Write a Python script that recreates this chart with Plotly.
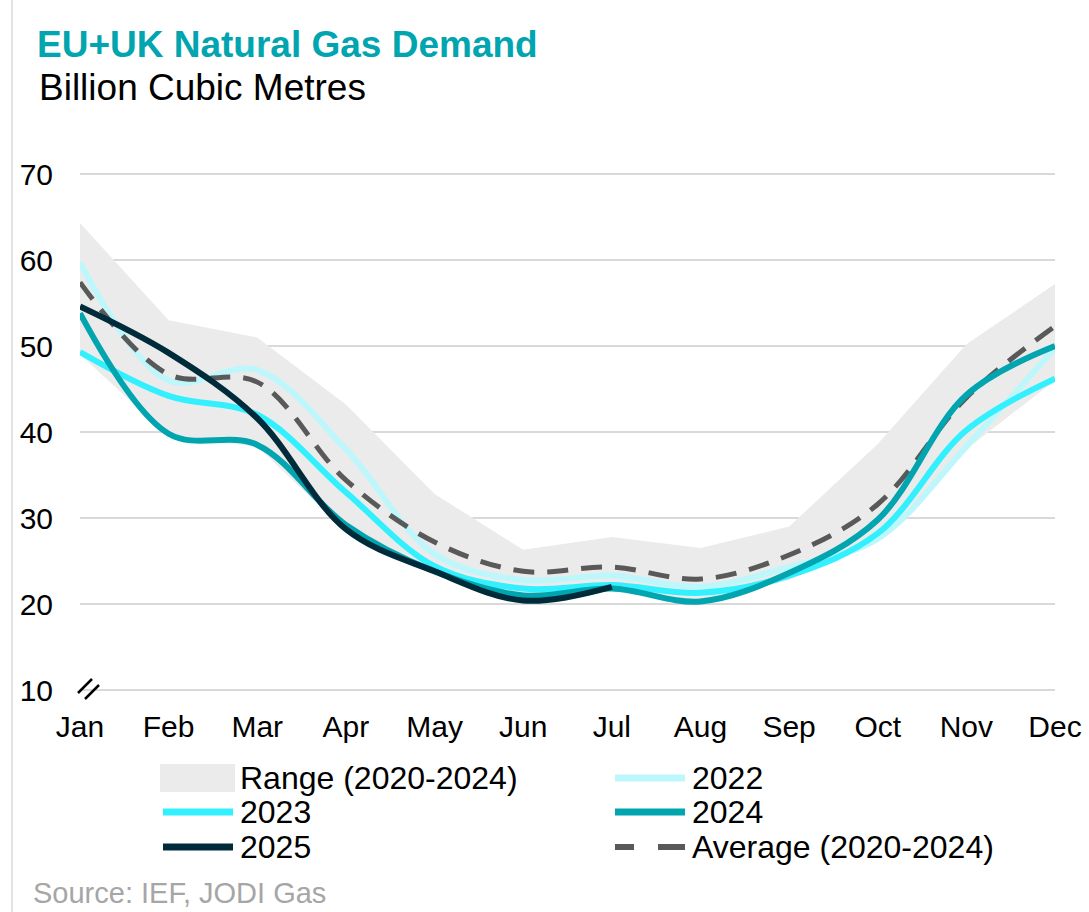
import plotly.graph_objects as go

# Monthly EU+UK natural gas demand, bcm
months = ["Jan", "Feb", "Mar", "Apr", "May", "Jun", "Jul", "Aug", "Sep", "Oct", "Nov", "Dec"]

range_low = [49.0, 39.5, 38.3, 28.5, 23.3, 20.7, 21.5, 20.1, 22.8, 27.3, 38.0, 46.0]
range_high = [64.3, 53.0, 51.0, 43.2, 32.8, 26.3, 27.8, 26.5, 29.0, 38.6, 50.2, 57.2]

y2022 = [59.7, 46.0, 47.2, 38.0, 25.8, 22.8, 23.3, 22.0, 24.3, 27.6, 38.3, 49.8]
y2023 = [49.3, 44.2, 42.0, 33.0, 24.4, 21.8, 22.2, 21.3, 23.3, 28.2, 40.2, 46.2]
y2024 = [53.8, 39.8, 38.5, 29.2, 23.8, 21.0, 21.8, 20.3, 23.6, 29.8, 44.3, 50.0]
y2025 = [54.6, 49.2, 41.6, 28.7, 23.8, 20.4, 22.0]
avg_2020_2024 = [57.4, 46.7, 45.8, 34.4, 27.2, 23.8, 24.3, 22.9, 25.7, 31.6, 44.0, 52.3]

x_idx = list(range(len(months)))

FONT = "Arial, Liberation Sans, sans-serif"
C_RANGE = "#EBEBEB"
C_2022 = "#BDF7FB"
C_2023 = "#33F0FF"
C_2024 = "#00A5B0"
C_2025 = "#002B3A"
C_AVG = "#595959"
C_TITLE = "#00A5B0"
C_GRID = "#D9D9D9"

fig = go.Figure()

# Min-max band
fig.add_trace(go.Scatter(x=x_idx, y=range_low, mode="lines", line=dict(width=0),
                         hoverinfo="skip", showlegend=False))
fig.add_trace(go.Scatter(x=x_idx, y=range_high, mode="lines", line=dict(width=0),
                         fill="tonexty", fillcolor=C_RANGE, name="Range (2020-2024)",
                         showlegend=False))

line_kw = dict(shape="spline", smoothing=1.0)
fig.add_trace(go.Scatter(x=x_idx, y=y2022, mode="lines", name="2022",
                         line=dict(color=C_2022, width=6, **line_kw), showlegend=False))
fig.add_trace(go.Scatter(x=x_idx, y=y2023, mode="lines", name="2023",
                         line=dict(color=C_2023, width=6, **line_kw), showlegend=False))
fig.add_trace(go.Scatter(x=x_idx, y=avg_2020_2024, mode="lines", name="Average (2020-2024)",
                         line=dict(color=C_AVG, width=5, dash="21px,13px", **line_kw),
                         showlegend=False))
fig.add_trace(go.Scatter(x=x_idx, y=y2024, mode="lines", name="2024",
                         line=dict(color=C_2024, width=6, **line_kw), showlegend=False))
fig.add_trace(go.Scatter(x=x_idx[:len(y2025)], y=y2025, mode="lines", name="2025",
                         line=dict(color=C_2025, width=6, **line_kw), showlegend=False))

# Plot area geometry in pixels (used to place paper-referenced decorations)
W, H = 1089, 912
ML, MR, MT, MB = 80, 34, 174, 222
PW, PH = W - ML - MR, H - MT - MB


def px(xp):
    return (xp - ML) / PW


def py(yp):
    return (H - MB - yp) / PH


shapes = []
annotations = []

# Gridlines on the top and bottom edges of the plot area
for yy in (0, 1):
    shapes.append(dict(type="line", xref="paper", yref="paper", layer="below",
                       x0=0, x1=1, y0=yy, y1=yy, line=dict(color=C_GRID, width=2)))

# Thin frame line at the left edge of the page
shapes.append(dict(type="line", xref="paper", yref="paper",
                   x0=px(12), x1=px(12), y0=py(0), y1=py(H),
                   line=dict(color="#C8C8C8", width=1)))

# Axis break marks at the bottom of the value axis
for dx in (0, 7):
    shapes.append(dict(type="line", xref="paper", yref="paper",
                       x0=px(78 + dx), y0=py(693 + 6 * (dx > 0)),
                       x1=px(92 + dx), y1=py(679 + 6 * (dx > 0)),
                       line=dict(color="black", width=2.5)))

# Title and subtitle
annotations.append(dict(text="<b>EU+UK Natural Gas Demand</b>", xref="paper", yref="paper",
                        x=px(35), y=py(44), xanchor="left", yanchor="middle",
                        showarrow=False, font=dict(family=FONT, size=37, color=C_TITLE)))
annotations.append(dict(text="Billion Cubic Metres", xref="paper", yref="paper",
                        x=px(37), y=py(88), xanchor="left", yanchor="middle",
                        showarrow=False, font=dict(family=FONT, size=37, color="black")))

# Source note
annotations.append(dict(text="Source: IEF, JODI Gas", xref="paper", yref="paper",
                        x=px(31), y=py(893), xanchor="left", yanchor="middle",
                        showarrow=False, font=dict(family=FONT, size=29, color="#A6A6A6")))

# Legend, laid out in two columns
legend_items = [
    ("Range (2020-2024)", "box", C_RANGE, 160, 778),
    ("2022", "line", C_2022, 612, 778),
    ("2023", "line", C_2023, 160, 812),
    ("2024", "line", C_2024, 612, 812),
    ("2025", "line", C_2025, 160, 847),
    ("Average (2020-2024)", "dash", C_AVG, 612, 847),
]
for label, kind, color, x0, yc in legend_items:
    if kind == "box":
        shapes.append(dict(type="rect", xref="paper", yref="paper",
                           x0=px(x0), x1=px(x0 + 75), y0=py(yc + 14), y1=py(yc - 14),
                           fillcolor=color, line=dict(width=0)))
    elif kind == "line":
        shapes.append(dict(type="line", xref="paper", yref="paper",
                           x0=px(x0 + 3), x1=px(x0 + 73), y0=py(yc), y1=py(yc),
                           line=dict(color=color, width=7)))
    else:
        for a, b in ((x0 + 3, x0 + 22), (x0 + 46, x0 + 73)):
            shapes.append(dict(type="line", xref="paper", yref="paper",
                               x0=px(a), x1=px(b), y0=py(yc), y1=py(yc),
                               line=dict(color=color, width=6)))
    annotations.append(dict(text=label, xref="paper", yref="paper",
                            x=px(x0 + 78), y=py(yc), xanchor="left", yanchor="middle",
                            showarrow=False, font=dict(family=FONT, size=32, color="black")))

fig.update_layout(
    width=W, height=H,
    margin=dict(l=ML, r=MR, t=MT, b=MB, autoexpand=False),
    paper_bgcolor="white", plot_bgcolor="white",
    font=dict(family=FONT, size=30, color="black"),
    showlegend=False,
    shapes=shapes,
    annotations=annotations,
    xaxis=dict(
        range=[0, len(months) - 1],
        tickmode="array", tickvals=x_idx, ticktext=months,
        showgrid=False, zeroline=False, showline=False,
        ticks="", ticklabelstandoff=16,
        tickfont=dict(family=FONT, size=30, color="black"),
        fixedrange=True,
    ),
    yaxis=dict(
        range=[10, 70], dtick=10, tick0=10,
        showgrid=True, gridcolor=C_GRID, gridwidth=2,
        zeroline=False, showline=False,
        ticks="", ticklabelstandoff=26,
        tickfont=dict(family=FONT, size=30, color="black"),
        fixedrange=True,
    ),
)

fig.write_html("out.html")
